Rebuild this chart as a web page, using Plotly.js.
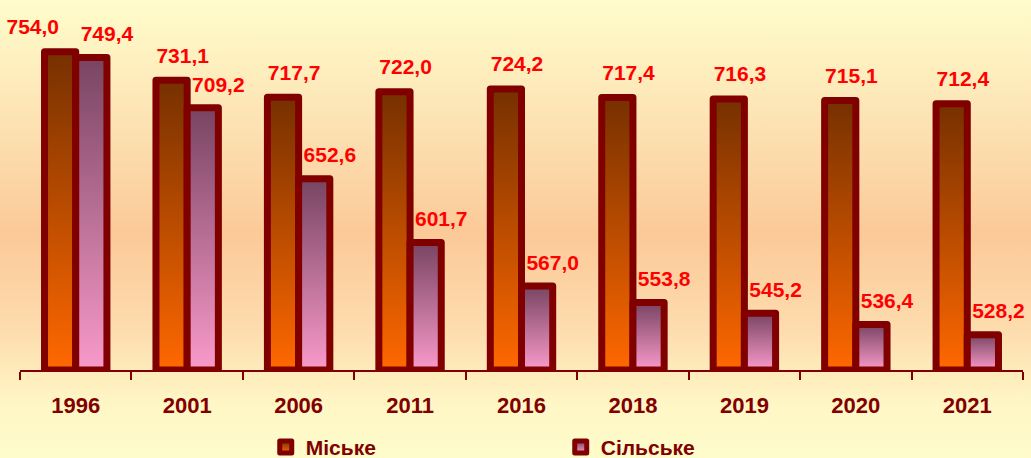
<!DOCTYPE html>
<html>
<head>
<meta charset="utf-8">
<script src="https://cdn.plot.ly/plotly-3.0.1.min.js"></script>
<style>
  html, body { margin: 0; padding: 0; }
  body {
    width: 1031px; height: 458px; overflow: hidden;
    background: linear-gradient(to bottom, #FFFDCB 0%, #FDE4B5 25%, #FCC998 51%, #FDDCAE 72%, #FFF6C5 88%, #FFFCCB 100%);
  }
  #chart { width: 1031px; height: 458px; }
</style>
</head>
<body>
<div id="chart"></div>
<script>
const years = ['1996', '2001', '2006', '2011', '2016', '2018', '2019', '2020', '2021'];
const urban = [754.0, 731.1, 717.7, 722.0, 724.2, 717.4, 716.3, 715.1, 712.4];
const rural = [749.4, 709.2, 652.6, 601.7, 567.0, 553.8, 545.2, 536.4, 528.2];
const seriesNames = ['Міське', 'Сільське'];
const axisMin = 500;

const fmt = v => v.toFixed(1).replace('.', ',');
const idx = years.map((_, i) => i);
const labelFont = { family: 'Liberation Sans, Arial, sans-serif', size: 21, color: '#FF0000', weight: 'bold' };
// first urban label sits left of its bar (as in the original) to avoid the neighbour
const urbanLabelPos = years.map((_, i) => i === 0 ? 'top left' : 'top center');

const traces = [
  {
    type: 'bar', name: seriesNames[0], x: years, base: axisMin, y: urban.map(v => v - axisMin),
    marker: { color: '#C04A00', line: { color: '#800000', width: 7 } },
    hoverinfo: 'skip'
  },
  {
    type: 'bar', name: seriesNames[1], x: years, base: axisMin, y: rural.map(v => v - axisMin),
    marker: { color: '#B870A0', line: { color: '#800000', width: 7 } },
    hoverinfo: 'skip'
  },
  {
    type: 'scatter', mode: 'text+markers', xaxis: 'x2', yaxis: 'y',
    x: idx.map(i => i - 0.04), y: urban, text: urban.map(fmt),
    textposition: urbanLabelPos, textfont: labelFont,
    marker: { size: 18, opacity: 0 }, showlegend: false, hoverinfo: 'skip', cliponaxis: false
  },
  {
    type: 'scatter', mode: 'text+markers', xaxis: 'x2', yaxis: 'y',
    x: idx.map(i => i + 0.28), y: rural, text: rural.map(fmt),
    textposition: 'top center', textfont: labelFont,
    marker: { size: 16, opacity: 0 }, showlegend: false, hoverinfo: 'skip', cliponaxis: false
  }
];

const layout = {
  width: 1031, height: 458,
  paper_bgcolor: 'rgba(0,0,0,0)', plot_bgcolor: 'rgba(0,0,0,0)',
  margin: { l: 20, r: 8, t: 0, b: 88 },
  barmode: 'group', bargap: 0.44, bargroupgap: 0,
  font: { family: 'Liberation Sans, Arial, sans-serif', color: '#800000' },
  xaxis: {
    type: 'category', showline: true, linecolor: '#800000', linewidth: 2,
    ticks: 'outside', tickson: 'boundaries', ticklen: 8, tickwidth: 2, tickcolor: '#800000',
    tickfont: { family: 'Liberation Sans, Arial, sans-serif', size: 22, color: '#800000', weight: 'bold' },
    ticklabelstandoff: 15, showgrid: false, zeroline: false, fixedrange: true
  },
  xaxis2: { overlaying: 'x', range: [-0.5, 8.5], visible: false, fixedrange: true },
  yaxis: {
    range: [axisMin, 795.2], visible: false, showgrid: false, zeroline: false, fixedrange: true
  },
  showlegend: true,
  legend: {
    orientation: 'h', x: 0.245, xanchor: 'left', yref: 'container', y: 0.068, yanchor: 'top',
    entrywidth: 250, bgcolor: 'rgba(0,0,0,0)',
    font: { family: 'Liberation Sans, Arial, sans-serif', size: 21, color: '#800000', weight: 'bold' }
  }
};

Plotly.newPlot('chart', traces, layout, { staticPlot: true, displayModeBar: false }).then(gd => {
  const svg = gd.querySelector('svg.main-svg');
  const ns = 'http://www.w3.org/2000/svg';
  let defs = svg.querySelector('defs');
  if (!defs) { defs = document.createElementNS(ns, 'defs'); svg.insertBefore(defs, svg.firstChild); }
  function addGrad(id, c1, c2) {
    const g = document.createElementNS(ns, 'linearGradient');
    g.setAttribute('id', id);
    g.setAttribute('x1', '0'); g.setAttribute('y1', '0'); g.setAttribute('x2', '0'); g.setAttribute('y2', '1');
    [[0, c1], [1, c2]].forEach(([o, c]) => {
      const s = document.createElementNS(ns, 'stop');
      s.setAttribute('offset', o); s.setAttribute('stop-color', c);
      g.appendChild(s);
    });
    defs.appendChild(g);
  }
  addGrad('gradU', '#763000', '#FF6800');
  addGrad('gradR', '#784462', '#F99ACA');
  const grads = ['url(#gradU)', 'url(#gradR)'];
  gd.querySelectorAll('.barlayer .trace').forEach((t, k) => {
    t.querySelectorAll('path').forEach(p => {
      p.style.fill = grads[k];
      p.style.strokeLinejoin = 'round';
    });
  });
  gd.querySelectorAll('.legend .traces').forEach((t, k) => {
    t.querySelectorAll('.legendpoints path').forEach(p => {
      p.style.fill = grads[k];
      p.style.strokeWidth = '5px';
      p.style.strokeLinejoin = 'round';
    });
  });
});
</script>
</body>
</html>
